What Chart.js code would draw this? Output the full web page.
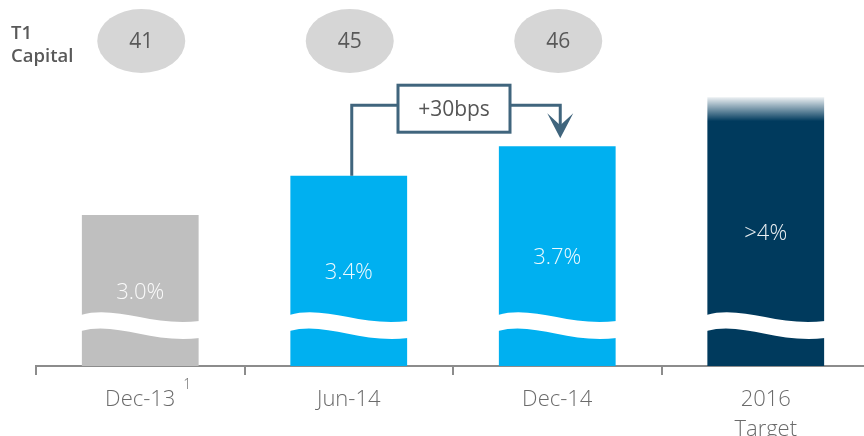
<!DOCTYPE html>
<html lang="en">
<head>
  <meta charset="UTF-8">
  <title>Leverage ratio progression</title>
  <style>
    html, body { margin: 0; padding: 0; background: #fff; overflow: hidden; }
    #wrap { position: relative; width: 870px; height: 436px; }
  </style>
</head>
<body>
  <div id="wrap"><canvas id="chart"></canvas></div>

  <script src="https://cdn.jsdelivr.net/npm/chart.js"></script>
  <script>
    // data
    const categories = [['Dec-13'], ['Jun-14'], ['Dec-14'], ['2016', 'Target']];
    const ratioValues = [3.0, 3.4, 3.7, 4.2];
    const ratioLabels = ['3.0%', '3.4%', '3.7%', '>4%'];
    const t1Capital = [41, 45, 46];
    const barColors = ['#bfbfbf', '#00b0f0', '#00b0f0', '#003a5d'];
    const changeLabel = '+30bps';
    const footnote = '1';

    const FONT = "'Open Sans', 'DejaVu Sans', sans-serif";
    const lineCol = '#40657d';

    function wave(ctx, x0, x1, yTop, h) {
      const w = x1 - x0;
      ctx.beginPath();
      ctx.moveTo(x0, yTop);
      ctx.bezierCurveTo(x0 + w * 0.3, yTop - 10, x0 + w * 0.6, yTop + 12, x1, yTop + 6);
      ctx.lineTo(x1, yTop + 6 + h + 1);
      ctx.bezierCurveTo(x0 + w * 0.6, yTop + 12 + h + 1, x0 + w * 0.3, yTop - 10 + h, x0, yTop + h);
      ctx.closePath();
      ctx.fill();
    }

    const decor = {
      id: 'decor',
      afterDatasetsDraw(chart) {
        const ctx = chart.ctx;
        const bars = chart.getDatasetMeta(0).data;
        const base = chart.chartArea.bottom;
        ctx.save();

        // fade on top of the target bar
        const tb = bars[3];
        const g = ctx.createLinearGradient(0, tb.y, 0, tb.y + 24);
        g.addColorStop(0, 'rgba(255,255,255,0.93)');
        g.addColorStop(1, 'rgba(255,255,255,0)');
        ctx.fillStyle = g;
        ctx.fillRect(tb.x - tb.width / 2 - 1, tb.y - 1, tb.width + 2, 25);

        // axis breaks
        ctx.fillStyle = '#fff';
        bars.forEach(b => {
          wave(ctx, b.x - b.width / 2 - 1, b.x + b.width / 2 + 1, base - 51, 16);
        });

        // values inside bars
        ctx.textAlign = 'center';
        ctx.textBaseline = 'middle';
        ctx.font = '300 22px ' + FONT;
        ctx.fillStyle = 'rgba(255,255,255,0.92)';
        bars.forEach((b, i) => {
          ctx.fillText(ratioLabels[i], b.x, (b.y + base) / 2 + 2);
        });

        // T1 capital ellipses
        ctx.fillStyle = '#595959';
        ctx.textAlign = 'left';
        ctx.textBaseline = 'alphabetic';
        ctx.font = '600 18.5px ' + FONT;
        ctx.fillText('T1', 11, 39);
        ctx.fillText('Capital', 11, 62);
        ctx.textAlign = 'center';
        ctx.textBaseline = 'middle';
        t1Capital.forEach((v, i) => {
          const cx = bars[i].x;
          ctx.fillStyle = '#d6d6d6';
          ctx.beginPath();
          ctx.ellipse(cx + 1, 41, 44, 32, 0, 0, Math.PI * 2);
          ctx.fill();
          ctx.fillStyle = '#595959';
          ctx.font = '400 21px ' + FONT;
          ctx.fillText(String(v), cx + 1, 42);
        });

        // change connector between Jun-14 and Dec-14
        const a = bars[1], c = bars[2];
        const ax = a.x + 3, cx2 = c.x + 3;
        const ly = c.y - 41;
        const bx = (a.x + c.x) / 2 + 1;
        const bw = 112, bh = 47, by = ly - 20;
        ctx.strokeStyle = lineCol;
        ctx.lineWidth = 3;
        ctx.lineJoin = 'miter';
        ctx.beginPath();
        ctx.moveTo(ax, a.y);
        ctx.lineTo(ax, ly);
        ctx.lineTo(bx - bw / 2, ly);
        ctx.moveTo(bx + bw / 2, ly);
        ctx.lineTo(cx2, ly);
        ctx.lineTo(cx2, c.y - 16);
        ctx.stroke();
        ctx.strokeRect(bx - bw / 2, by, bw, bh);
        ctx.fillStyle = lineCol;
        ctx.beginPath();
        ctx.moveTo(cx2, c.y - 8);
        ctx.lineTo(cx2 - 13, c.y - 33);
        ctx.lineTo(cx2, c.y - 21);
        ctx.lineTo(cx2 + 13, c.y - 33);
        ctx.closePath();
        ctx.fill();
        ctx.fillStyle = '#555';
        ctx.font = '400 21px ' + FONT;
        ctx.fillText(changeLabel, bx, by + bh / 2 + 1);

        // footnote marker next to first tick label
        ctx.fillStyle = '#6b6b6b';
        ctx.font = '300 14px ' + FONT;
        ctx.fillText(footnote, bars[0].x + 47, base + 19);

        ctx.restore();
      }
    };

    new Chart(document.getElementById('chart').getContext('2d'), {
      type: 'bar',
      data: {
        labels: categories,
        datasets: [{
          data: ratioValues,
          backgroundColor: barColors,
          barPercentage: 0.56,
          categoryPercentage: 1
        }]
      },
      options: {
        responsive: true,
        maintainAspectRatio: false,
        animation: false,
        layout: { padding: { left: 36, right: 0, top: 0, bottom: 0 } },
        plugins: { legend: { display: false }, tooltip: { enabled: false } },
        scales: {
          x: {
            offset: true,
            grid: { offset: true, drawOnChartArea: false, tickLength: 9, color: '#8c8c8c', lineWidth: 2 },
            border: { color: '#8c8c8c', width: 2 },
            ticks: {
              color: '#6b6b6b',
              padding: 10,
              maxRotation: 0,
              autoSkip: false,
              font: { family: FONT, size: 22, weight: '300', lineHeight: 1.36 }
            },
            afterFit(s) { s.height = 70; }
          },
          y: { display: false, min: 1.46, max: 5.19 }
        }
      },
      plugins: [decor]
    });
  </script>
</body>
</html>
